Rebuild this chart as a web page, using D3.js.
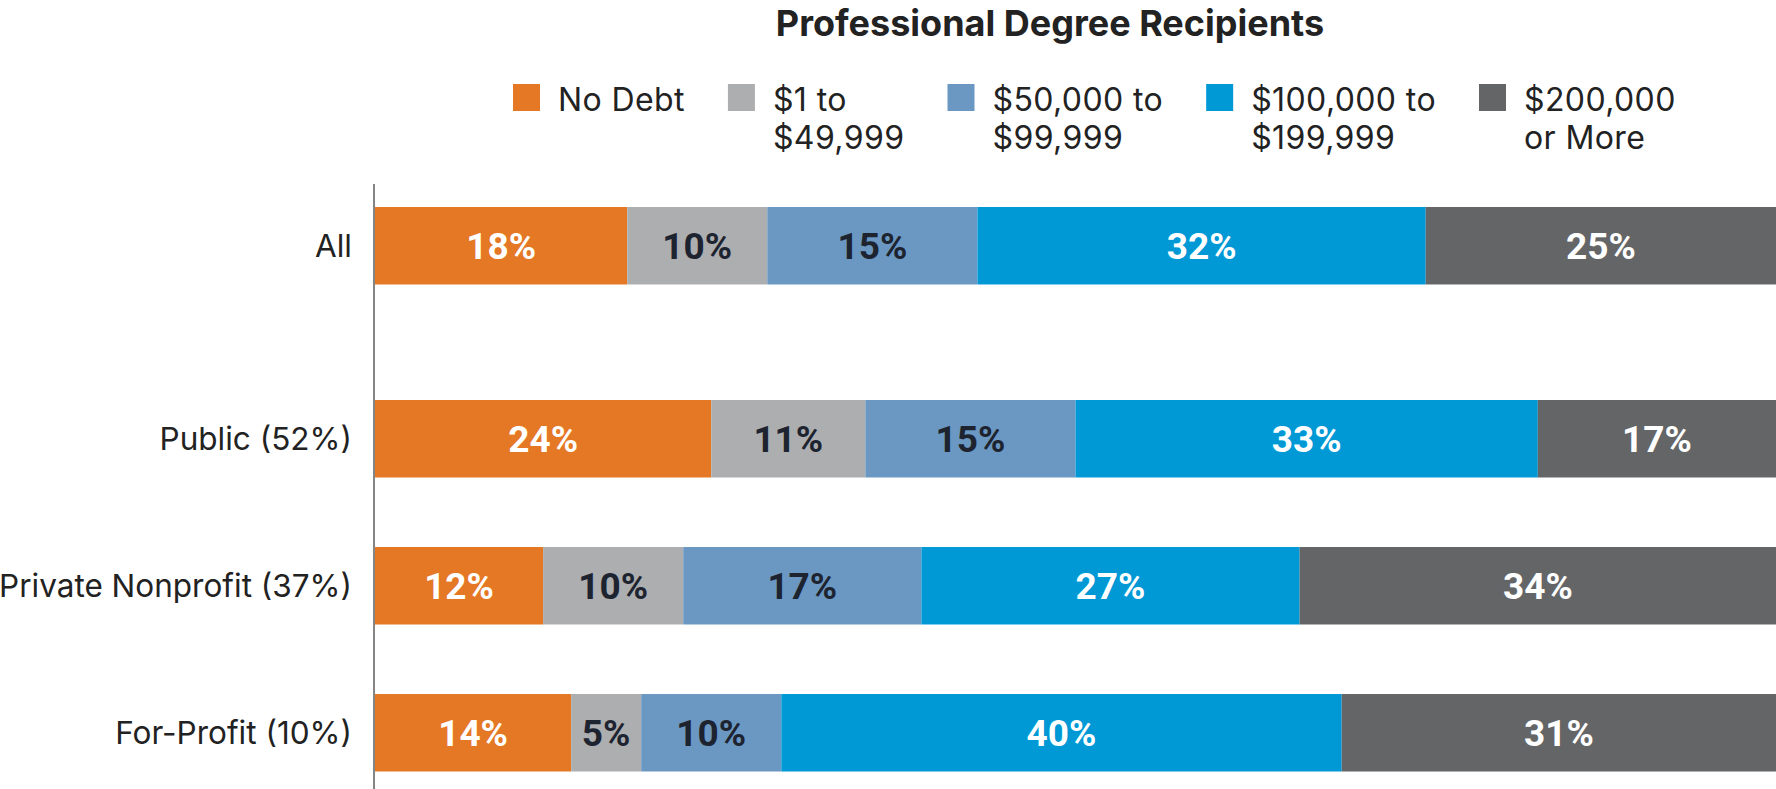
<!DOCTYPE html>
<html>
<head>
<meta charset="utf-8">
<script src="https://cdn.jsdelivr.net/npm/d3@7"></script>
<style>
  html, body { margin: 0; padding: 0; background: #ffffff; }
  svg { display: block; }
</style>
</head>
<body>
<svg id="chart" width="1776" height="789"></svg>
<script>
// ---- Data ----
const title = "Professional Degree Recipients";
const categories = ["All", "Public (52%)", "Private Nonprofit (37%)", "For-Profit (10%)"];
const seriesNames = ["No Debt", "$1 to $49,999", "$50,000 to $99,999", "$100,000 to $199,999", "$200,000 or More"];
const legendLines = [["No Debt"], ["$1 to", "$49,999"], ["$50,000 to", "$99,999"], ["$100,000 to", "$199,999"], ["$200,000", "or More"]];
const noDebt      = [18, 24, 12, 14];
const debt1to50k  = [10, 11, 10, 5];
const debt50to100k = [15, 15, 17, 10];
const debt100to200k = [32, 33, 27, 40];
const debt200kPlus = [25, 17, 34, 31];
const seriesValues = [noDebt, debt1to50k, debt50to100k, debt100to200k, debt200kPlus];

// ---- Styles ----
const colors = ["#E57825", "#ADAEB0", "#6B98C3", "#0099D6", "#646567"];
const labelColors = ["#ffffff", "#1d2430", "#1d2430", "#ffffff", "#ffffff"];
const textFont = "Inter, 'Noto Sans', sans-serif";
const valueFont = "Roboto, 'Liberation Sans', sans-serif";

const svg = d3.select("#chart");

// ---- Scales ----
const x = d3.scaleLinear().domain([0, 100]).range([375, 1776]);
const y = d3.scaleBand().domain(categories).range([253, 771.5]).paddingInner(0.473).paddingOuter(0);
const allGap = 46; // extra separation of the "All" row
const rowY = c => y(c) - (c === "All" ? allGap : 0);

// stacked data
const table = categories.map((c, i) => {
  const row = { category: c };
  seriesNames.forEach((s, k) => row[s] = seriesValues[k][i]);
  return row;
});
const stacked = d3.stack().keys(seriesNames)(table);

// ---- Title ----
svg.append("text")
  .attr("x", 1050).attr("y", 36)
  .attr("text-anchor", "middle")
  .style("font-family", textFont).style("font-weight", 700).style("font-size", "36px")
  .style("fill", "#222")
  .text(title);

// ---- Legend ----
const legend = svg.append("g");
let lx = 513;
seriesNames.forEach((s, k) => {
  const g = legend.append("g").attr("transform", `translate(${lx},0)`);
  g.append("rect").attr("x", 0).attr("y", 84).attr("width", 27).attr("height", 27).attr("fill", colors[k]);
  const t = g.append("text")
    .style("font-family", textFont).style("font-size", "32px").style("letter-spacing", "0.4px")
    .style("fill", "#222");
  legendLines[k].forEach((line, j) => {
    t.append("tspan").attr("x", 45).attr("y", 111 + j * 38).text(line);
  });
  const w = t.node().getBBox().width;
  lx += 45 + w + 43;
});

// ---- Axis line ----
svg.append("line")
  .attr("x1", 374).attr("x2", 374).attr("y1", 184).attr("y2", 789)
  .attr("stroke", "#858585").attr("stroke-width", 2);

// ---- Bars ----
stacked.forEach((layer, k) => {
  const g = svg.append("g");
  g.selectAll("rect").data(layer).enter().append("rect")
    .attr("x", d => x(d[0]))
    .attr("width", d => x(d[1]) - x(d[0]))
    .attr("y", d => rowY(d.data.category))
    .attr("height", y.bandwidth())
    .attr("fill", colors[k]);
  g.selectAll("text").data(layer).enter().append("text")
    .attr("x", d => (x(d[0]) + x(d[1])) / 2)
    .attr("y", d => rowY(d.data.category) + y.bandwidth() / 2)
    .attr("dy", "0.36em")
    .attr("text-anchor", "middle")
    .style("font-family", valueFont).style("font-weight", 700).style("font-size", "37px")
    .style("fill", labelColors[k])
    .text(d => (d[1] - d[0]) + "%");
});

// ---- Category labels ----
svg.append("g").selectAll("text").data(categories).enter().append("text")
  .attr("x", 352)
  .attr("y", c => rowY(c) + y.bandwidth() / 2)
  .attr("dy", "0.36em")
  .attr("text-anchor", "end")
  .style("font-family", textFont).style("font-size", "31.5px").style("fill", "#222")
  .text(c => c);
</script>
</body>
</html>
